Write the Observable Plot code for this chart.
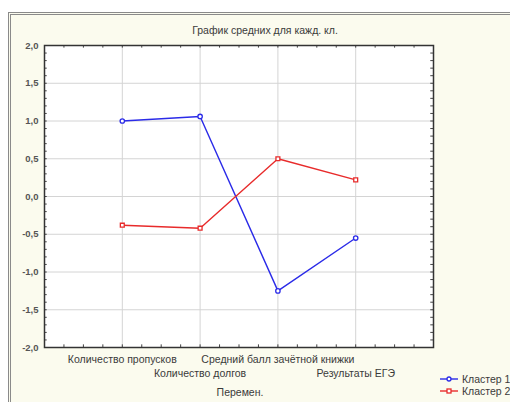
<!DOCTYPE html>
<html>
<head>
<meta charset="utf-8">
<script src="https://cdn.jsdelivr.net/npm/d3@7"></script>
<script src="https://cdn.jsdelivr.net/npm/@observablehq/plot@0.6"></script>
<style>
  html, body { margin: 0; padding: 0; background: #fff; }
  #wrap { position: relative; width: 510px; height: 402px; overflow: hidden; background: #fff;
          font-family: "Liberation Sans", Arial, sans-serif; color: #3a3a3a; }
  #panel { position: absolute; left: 8px; top: 12px; width: 520px; height: 410px;
           background: #fbfbee; border-top: 3px double #8a8a8a; border-left: 3px double #8a8a8a; box-sizing: border-box; }
  #chart { position: absolute; left: 0; top: 0; }
  .lbl { position: absolute; font-size: 10.5px; white-space: nowrap; }
  #title { left: 165px; width: 200px; text-align: center; top: 24px; }
  #xlab { left: 140px; width: 200px; text-align: center; top: 386px; }
  .leg { position: absolute; left: 440px; font-size: 10.5px; white-space: nowrap; display: flex; align-items: center; }
  .leg svg { margin-right: 4px; }
</style>
</head>
<body>
<div id="wrap">
  <div id="panel"></div>
  <div id="chart"></div>
  <div class="lbl" id="title"></div>
  <div class="lbl" id="xlab"></div>
  <div id="legend"></div>
</div>
<script>
const titleText = "График средних для кажд. кл.";
const xAxisLabel = "Перемен.";
const variables = ["Количество пропусков", "Количество долгов", "Средний балл зачётной книжки", "Результаты ЕГЭ"];
const seriesNames = ["Кластер 1", "Кластер 2"];
const cluster1 = [1.0, 1.06, -1.25, -0.55];
const cluster2 = [-0.38, -0.42, 0.50, 0.22];
const yTicks = [-2.0, -1.5, -1.0, -0.5, 0.0, 0.5, 1.0, 1.5, 2.0];
const seriesColors = ["#2b2be8", "#e82b2b"];
const seriesSymbols = ["circle", "square"];

const data = [];
variables.forEach((v, i) => {
  data.push({pos: i + 1, value: cluster1[i], series: seriesNames[0]});
  data.push({pos: i + 1, value: cluster2[i], series: seriesNames[1]});
});
const xTicks = variables.map((v, i) => ({pos: i + 1, label: v, row: i % 2}));
const fmt = d => d3.format(".1f")(d).replace("−", "-").replace(".", ",");

const plot = Plot.plot({
  width: 510,
  height: 402,
  marginLeft: 44,
  marginRight: 77,
  marginTop: 45,
  marginBottom: 55,
  style: {background: "transparent", fontFamily: "Liberation Sans, Arial, sans-serif", fontSize: "10.5px", color: "#3a3a3a"},
  x: {domain: [0, variables.length + 1], axis: null},
  y: {domain: [-2, 2], axis: null},
  color: {domain: seriesNames, range: seriesColors},
  symbol: {domain: seriesNames, range: seriesSymbols},
  marks: [
    Plot.frame({fill: "white"}),
    Plot.gridY(yTicks, {stroke: "#d4d4d4", strokeOpacity: 1, strokeWidth: 1}),
    Plot.gridX(xTicks.map(d => d.pos), {stroke: "#d4d4d4", strokeOpacity: 1, strokeWidth: 1}),
    Plot.ruleY(d3.range(-20, 21).map(d => d / 10), {x1: 0, x2: 0.035, stroke: "#444"}),
    Plot.ruleY(d3.range(-20, 21).map(d => d / 10), {x1: variables.length + 1, x2: variables.length + 1 - 0.035, stroke: "#444"}),
    Plot.ruleX(d3.range(0, 21).map(d => d / 4), {y1: 2, y2: 1.965, stroke: "#444"}),
    Plot.ruleX(d3.range(0, 21).map(d => d / 4), {y1: -2, y2: -1.965, stroke: "#444"}),
    Plot.axisY(yTicks, {label: null, tickSize: 0, tickPadding: 6, tickFormat: fmt, fontWeight: "bold", fill: "#555", fontSize: 9.5}),
    Plot.text(xTicks.filter(d => d.row === 0), {x: "pos", text: "label", frameAnchor: "bottom", dy: 8, lineAnchor: "top", fill: "#3a3a3a"}),
    Plot.text(xTicks.filter(d => d.row === 1), {x: "pos", text: "label", frameAnchor: "bottom", dy: 22, lineAnchor: "top", fill: "#3a3a3a"}),
    Plot.line(data, {x: "pos", y: "value", stroke: "series", strokeWidth: 1.4}),
    Plot.dot(data, {x: "pos", y: "value", stroke: "series", symbol: "series", r: 2.2, fill: "white", strokeWidth: 1.3}),
    Plot.frame({stroke: "#333", strokeWidth: 1.5})
  ]
});
document.getElementById("chart").appendChild(plot);
document.getElementById("title").textContent = titleText;
document.getElementById("xlab").textContent = xAxisLabel;

const legend = document.getElementById("legend");
seriesNames.forEach((name, i) => {
  const el = document.createElement("div");
  el.className = "leg";
  el.style.top = (373 + i * 12) + "px";
  const shape = seriesSymbols[i] === "circle"
    ? `<circle cx="9" cy="5" r="2" fill="white" stroke="${seriesColors[i]}" stroke-width="1.3"/>`
    : `<rect x="7" y="3" width="4" height="4" fill="white" stroke="${seriesColors[i]}" stroke-width="1.3"/>`;
  el.innerHTML = `<svg width="18" height="10"><line x1="0" x2="18" y1="5" y2="5" stroke="${seriesColors[i]}" stroke-width="1.4"/>${shape}</svg><span>${name}</span>`;
  legend.appendChild(el);
});
</script>
</body>
</html>
